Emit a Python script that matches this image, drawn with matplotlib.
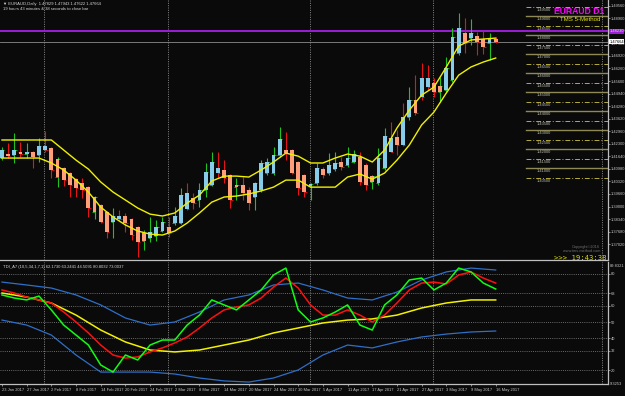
import matplotlib
matplotlib.use("Agg")
import matplotlib.pyplot as plt
from matplotlib.transforms import blended_transform_factory

# ---------------- data ----------------
bar_idx = list(range(81))
body_hi = [1.4197, 1.4176, 1.4197, 1.4186, 1.4186, 1.4186, 1.4218, 1.4218, 1.4208, 1.4150,
           1.4102, 1.4076, 1.4044, 1.4023, 1.4002, 1.3950, 1.3908, 1.3871, 1.3850, 1.3850,
           1.3850, 1.3834, 1.3792, 1.3760, 1.3766, 1.3792, 1.3818, 1.3792, 1.3850, 1.3960,
           1.3971, 1.3945, 1.3987, 1.4081, 1.4134, 1.4102, 1.4092, 1.4065, 1.4013, 1.4013,
           1.3987, 1.4023, 1.4129, 1.4134, 1.4171, 1.4255, 1.4197, 1.4197, 1.4134, 1.4065,
           1.4018, 1.4102, 1.4097, 1.4118, 1.4129, 1.4134, 1.4155, 1.4176, 1.4160, 1.4118,
           1.4060, 1.4155, 1.4271, 1.4260, 1.4265, 1.4371, 1.4460, 1.4460, 1.4576, 1.4576,
           1.4549, 1.4534, 1.4628, 1.4791, 1.4839, 1.4812, 1.4812, 1.4797, 1.4781, 1.4786,
           1.4783]
body_lo = [1.4155, 1.4165, 1.4171, 1.4176, 1.4176, 1.4160, 1.4171, 1.4197, 1.4092, 1.4055,
           1.4039, 1.4013, 1.3997, 1.3987, 1.3892, 1.3871, 1.3818, 1.3766, 1.3818, 1.3834,
           1.3813, 1.3750, 1.3713, 1.3718, 1.3734, 1.3745, 1.3771, 1.3760, 1.3813, 1.3813,
           1.3887, 1.3918, 1.3934, 1.3987, 1.4013, 1.4076, 1.4050, 1.3934, 1.4002, 1.3971,
           1.3918, 1.3950, 1.3987, 1.4076, 1.4076, 1.4171, 1.4181, 1.4076, 1.3997, 1.3976,
           1.4008, 1.4023, 1.4065, 1.4076, 1.4097, 1.4108, 1.4118, 1.4134, 1.4029, 1.4013,
           1.4029, 1.4023, 1.4102, 1.4186, 1.4223, 1.4223, 1.4371, 1.4392, 1.4476, 1.4528,
           1.4502, 1.4502, 1.4513, 1.4565, 1.4707, 1.4760, 1.4786, 1.4765, 1.4739, 1.4760,
           1.4766]
bar_high = [1.4213, 1.4234, 1.4286, 1.4239, 1.4234, 1.4192, 1.4260, 1.4297, 1.4213, 1.4160,
            1.4108, 1.4081, 1.4050, 1.4050, 1.4008, 1.3955, 1.3913, 1.3876, 1.3892, 1.3881,
            1.3866, 1.3839, 1.3797, 1.3776, 1.3845, 1.3829, 1.3845, 1.3845, 1.3897, 1.3997,
            1.4023, 1.3971, 1.4023, 1.4129, 1.4186, 1.4186, 1.4144, 1.4071, 1.4050, 1.4055,
            1.4002, 1.4029, 1.4144, 1.4155, 1.4213, 1.4318, 1.4292, 1.4202, 1.4139, 1.4071,
            1.4023, 1.4129, 1.4108, 1.4181, 1.4186, 1.4160, 1.4213, 1.4197, 1.4186, 1.4129,
            1.4065, 1.4208, 1.4313, 1.4344, 1.4302, 1.4444, 1.4528, 1.4591, 1.4655, 1.4644,
            1.4576, 1.4581, 1.4686, 1.4839, 1.4918, 1.4891, 1.4886, 1.4818, 1.4828, 1.4812,
            1.4794]
bar_low = [1.4144, 1.4155, 1.4129, 1.4160, 1.4155, 1.4102, 1.4134, 1.4186, 1.4050, 1.4002,
           1.4008, 1.3950, 1.3950, 1.3945, 1.3845, 1.3834, 1.3813, 1.3734, 1.3734, 1.3824,
           1.3766, 1.3724, 1.3634, 1.3671, 1.3713, 1.3718, 1.3766, 1.3739, 1.3803, 1.3808,
           1.3881, 1.3887, 1.3897, 1.3950, 1.4008, 1.4050, 1.4023, 1.3892, 1.3934, 1.3934,
           1.3881, 1.3881, 1.3976, 1.4065, 1.4065, 1.4160, 1.4144, 1.4071, 1.3960, 1.3950,
           1.3934, 1.4013, 1.4050, 1.4065, 1.4087, 1.4092, 1.4108, 1.4129, 1.4013, 1.3987,
           1.3992, 1.4013, 1.4092, 1.4186, 1.4171, 1.4218, 1.4355, 1.4381, 1.4460, 1.4513,
           1.4476, 1.4449, 1.4502, 1.4555, 1.4697, 1.4707, 1.4749, 1.4697, 1.4702, 1.4670,
           1.4762]
body_dir = ("BSBSBSBBSS" "SSSSSSSSBB" "SSSSBBBSBB" "BSBBBBSSSS" "SBBBBBSSSS"
            "BBSBBSBBSS" "SBBBSBBSBB" "SSBBBSBSSB" "S")
bar_dir = ("GRGRGRGRRG" "RRRRRGRRGR" "RRRGGGGRGG" "RRGGGRRRGR" "RGGGGGRRRR"
           "GGRGGRGGRR" "GGGRRRGRRR" "RGGGGRGRRG" "R")

band_idx = list(range(0, 81, 2))
band_upper = [1.4250, 1.4250, 1.4250, 1.4250, 1.4250, 1.4197, 1.4144, 1.4097, 1.4029, 1.3976,
              1.3934, 1.3892, 1.3860, 1.3850, 1.3866, 1.3918, 1.3960, 1.4034, 1.4060, 1.4060,
              1.4055, 1.4092, 1.4134, 1.4181, 1.4165, 1.4129, 1.4129, 1.4155, 1.4176, 1.4165,
              1.4134, 1.4197, 1.4313, 1.4407, 1.4486, 1.4528, 1.4634, 1.4744, 1.4776, 1.4781,
              1.4786]
band_lower = [1.4155, 1.4155, 1.4155, 1.4155, 1.4129, 1.4092, 1.4039, 1.3976, 1.3897, 1.3845,
              1.3803, 1.3771, 1.3755, 1.3750, 1.3771, 1.3813, 1.3866, 1.3923, 1.3950, 1.3955,
              1.3966, 1.3982, 1.4002, 1.4039, 1.4039, 1.4002, 1.4002, 1.4002, 1.4055, 1.4071,
              1.4044, 1.4076, 1.4144, 1.4223, 1.4329, 1.4397, 1.4497, 1.4591, 1.4634, 1.4660,
              1.4681]

level_prices = [1.405, 1.410, 1.415, 1.420, 1.425, 1.430, 1.435, 1.440, 1.445, 1.450,
                1.455, 1.460, 1.465, 1.470, 1.475, 1.480, 1.485, 1.490, 1.495]
purple_level = 1.4823
bid_price = 1.47664

price_ticks = [1.4956, 1.4890, 1.4824, 1.4758, 1.4692, 1.4626, 1.4560, 1.4494, 1.4428, 1.4362,
               1.4296, 1.4230, 1.4164, 1.4098, 1.4032, 1.3966, 1.3900, 1.3834, 1.3768, 1.3702]

# TDI indicator
tdi_idx = list(range(0, 81, 2))
tdi_green = [66.8, 64.9, 63.7, 66.1, 57.5, 48.1, 41.9, 35.7, 23.3, 18.9,
             29.5, 26.4, 35.7, 38.8, 38.8, 48.1, 54.3, 63.7, 60.6, 57.5,
             63.7, 69.9, 79.2, 83.5, 57.5, 50.0, 52.5, 56.2, 60.6, 48.1,
             45.0, 60.6, 66.8, 76.1, 77.3, 69.9, 74.2, 83.5, 81.1, 74.2,
             70.5]
tdi_red = [69.9, 68.0, 65.5, 63.7, 61.8, 56.2, 50.0, 43.2, 35.7, 29.5,
           27.6, 28.3, 31.4, 33.9, 37.0, 40.7, 46.3, 52.5, 57.5, 59.3,
           60.6, 64.9, 71.7, 77.3, 71.1, 60.6, 54.3, 54.3, 57.5, 54.3,
           50.0, 54.3, 61.8, 69.9, 74.2, 74.8, 73.6, 79.2, 81.1, 77.3,
           74.2]
slow_idx = list(range(0, 81, 4))
tdi_yellow = [68.0, 65.5, 61.8, 54.3, 45.0, 37.6, 32.6, 31.4, 32.6, 35.7,
              38.8, 43.2, 46.3, 49.4, 51.2, 51.9, 54.3, 58.7, 61.8, 63.7, 63.7]
tdi_upper = [74.8, 73.0, 71.1, 66.8, 60.6, 52.5, 48.1, 50.0, 56.2, 63.7,
             66.8, 73.0, 74.2, 69.9, 64.9, 63.7, 68.6, 76.1, 81.1, 83.5, 82.3]
tdi_lower = [51.2, 48.1, 41.9, 29.5, 18.9, 18.9, 18.9, 17.7, 15.2, 13.4,
             12.7, 15.2, 20.2, 29.5, 35.7, 33.9, 37.6, 40.7, 42.5, 43.8, 44.4]
tdi_levels = [20, 32, 40, 50, 60, 68, 80]

date_tick_idx = list(range(0, 81, 4))
date_labels = ["23 Jan 2017", "27 Jan 2017", "2 Feb 2017", "8 Feb 2017", "14 Feb 2017",
               "20 Feb 2017", "24 Feb 2017", "2 Mar 2017", "8 Mar 2017", "14 Mar 2017",
               "20 Mar 2017", "24 Mar 2017", "30 Mar 2017", "5 Apr 2017", "11 Apr 2017",
               "17 Apr 2017", "21 Apr 2017", "27 Apr 2017", "3 May 2017", "9 May 2017",
               "16 May 2017"]
separators = [6.8, 26.9, 49.9, 69.9, 97.2]

# ---------------- style ----------------
BG = "#0a0a0a"
AX = "#bfbfbf"
TXT = "#c8c8c8"
SMALL = ["Liberation Sans Narrow", "Liberation Sans", "DejaVu Sans"]
W, H = 625, 396

fig = plt.figure(figsize=(W / 100, H / 100), dpi=100, facecolor=BG)


def frac(x0, y0, x1, y1):
    return [x0 / W, 1 - y1 / H, (x1 - x0) / W, (y1 - y0) / H]


ax = fig.add_axes(frac(0, 0, 608, 260), facecolor=BG)
ax2 = fig.add_axes(frac(0, 262, 608, 384), facecolor=BG, sharex=ax)

xmin, xmax = -0.32, 98.2
ax.set_xlim(xmin, xmax)
ax.set_ylim(1.36187, 1.49863)
ax2.set_ylim(11.49, 87.27)

for a in (ax, ax2):
    for s in ("left", "top"):
        a.spines[s].set_visible(False)
    for s in ("right", "bottom"):
        a.spines[s].set_color(AX)
        a.spines[s].set_linewidth(0.9)
    a.yaxis.tick_right()
    a.tick_params(axis="y", colors=AX, labelcolor=TXT, labelsize=2.9, length=1.2,
                  width=0.5, pad=0.6)
    for sx in separators:
        a.axvline(sx, color="#9a9a9a", lw=0.6, ls=(0, (1.2, 1.6)), zorder=1)

ax.tick_params(axis="x", bottom=False, labelbottom=False)

# level lines
trans = blended_transform_factory(ax.transAxes, ax.transData)
for lv in level_prices:
    solid = (round(lv * 1000) % 10 == 0)
    if solid:
        ax.plot([526 / 608, 1], [lv, lv], transform=trans, color="#8f8a55", lw=1.0, zorder=2)
    else:
        ax.plot([526 / 608, 1], [lv, lv], transform=trans, color="#b5ad3c", lw=0.7,
                ls=(0, (5, 2, 1, 2)), zorder=2)
    ax.text(0.883, lv - 0.0005, f"{lv:.5f}", transform=trans, color="#c0c0b0",
            fontsize=2.9, family=SMALL, va="top", ha="left", zorder=3)

# purple and bid lines
ax.axhline(purple_level, color="#9a1fd6", lw=1.4, zorder=3)
ax.axhline(bid_price, color="#8c8c8c", lw=0.6, zorder=3)

# bands
ax.plot(band_idx, band_upper, color="#f0f000", lw=1.0, zorder=6)
ax.plot(band_idx, band_lower, color="#f0f000", lw=1.0, zorder=6)

# OHLC bars
for i in bar_idx:
    up = bar_dir[i] == "G"
    col = "#1fc21f" if up else "#e51515"
    ax.vlines(i, bar_low[i], bar_high[i], color=col, lw=0.8, zorder=4)
    o = body_lo[i] if up else body_hi[i]
    c = body_hi[i] if up else body_lo[i]
    ax.hlines(o, i - 0.38, i, color=col, lw=0.6, zorder=4)
    ax.hlines(c, i, i + 0.38, color=col, lw=0.6, zorder=4)

# HA bodies
for i in bar_idx:
    col = "#87cdea" if body_dir[i] == "B" else "#ff9f7a"
    ax.bar(i, body_hi[i] - body_lo[i], bottom=body_lo[i], width=0.62, color=col,
           lw=0, zorder=5)

# price axis ticks
ax.set_yticks(price_ticks)
ax.set_yticklabels([f"{p:.5f}" for p in price_ticks], family=SMALL)

# right-side price boxes
ax.text(1.002, purple_level, f"{purple_level:.5f}", transform=trans, fontsize=2.9,
        family=SMALL, color="#e0e0e0", va="center", ha="left", zorder=10, clip_on=False,
        bbox=dict(boxstyle="square,pad=0.12", fc="#9a1fd6", ec="none"))
ax.text(1.002, bid_price, f"{bid_price:.5f}", transform=trans, fontsize=2.9,
        family=SMALL, color="#000000", va="center", ha="left", zorder=10, clip_on=False,
        bbox=dict(boxstyle="square,pad=0.12", fc="#ffffff", ec="none"))

# TDI panel
for lv in tdi_levels:
    ax2.axhline(lv, color="#8a8a8a", lw=0.55, ls=(0, (1.2, 1.6)), zorder=1)
ax2.plot(slow_idx, tdi_upper, color="#2f6fc8", lw=0.9, zorder=3)
ax2.plot(slow_idx, tdi_lower, color="#2f6fc8", lw=0.9, zorder=3)
ax2.plot(slow_idx, tdi_yellow, color="#f2f200", lw=1.1, zorder=4)
ax2.plot(tdi_idx, tdi_red, color="#ff1010", lw=1.1, zorder=5)
ax2.plot(tdi_idx, tdi_green, color="#10ff10", lw=1.1, zorder=6)
ax2.set_yticks(tdi_levels)
ax2.set_yticklabels([str(v) for v in tdi_levels], family=SMALL)

ax2.set_xticks(date_tick_idx)
ax2.set_xticklabels(date_labels, ha="left", family=SMALL)
ax2.tick_params(axis="x", colors=AX, labelcolor=TXT, labelsize=2.9, length=1.2,
                width=0.5, pad=1.5)

# ---------------- texts ----------------
def ftext(x, y, s, **kw):
    fig.text(x / W, 1 - y / H, s, **kw)


ftext(3, 4, "\u25bc EURAUD,Daily  1.47829 1.47943 1.47622 1.47664", fontsize=3.0,
      color="#d8d8d8", va="center", ha="left", family=["Liberation Sans", "DejaVu Sans"])
ftext(3, 9.5, "19 hours 43 minutes & 38 seconds to close bar", fontsize=3.0,
      color="#d8d8d8", va="center", ha="left", family=SMALL)
ftext(604, 11, "EURAUD D1", fontsize=6.2, color="#ff00ff", weight="bold",
      family="Liberation Sans", va="center", ha="right")
ftext(580, 19.5, "' TMS 5-Method '", fontsize=4.4, color="#e8e800",
      family="Liberation Sans", va="center", ha="center")
ftext(3, 267, "TDI_A7 (10,5,34,1,7,1) 62.1730 63.2441 44.5091 80.8032 73.0037",
      fontsize=3.0, color="#d8d8d8", va="center", ha="left", family=SMALL)
ftext(600, 247, "Copyright\u00a92016", fontsize=2.8, color="#6e6e6e", va="center",
      ha="right", family=SMALL)
ftext(600, 251.5, "www.tms-method.com", fontsize=2.8, color="#6e6e6e", va="center",
      ha="right", family=SMALL)
ftext(606, 258, ">>> 19:43:38", fontsize=5.2, color="#d8d800", va="center", ha="right",
      family="DejaVu Sans Mono")
ftext(609.5, 266, "89.8321", fontsize=2.9, color=TXT, va="center", ha="left", family=SMALL)
ftext(609.5, 384, "9.3253", fontsize=2.9, color=TXT, va="center", ha="left", family=SMALL)

fig.savefig("out.png", dpi=100, facecolor=BG)
